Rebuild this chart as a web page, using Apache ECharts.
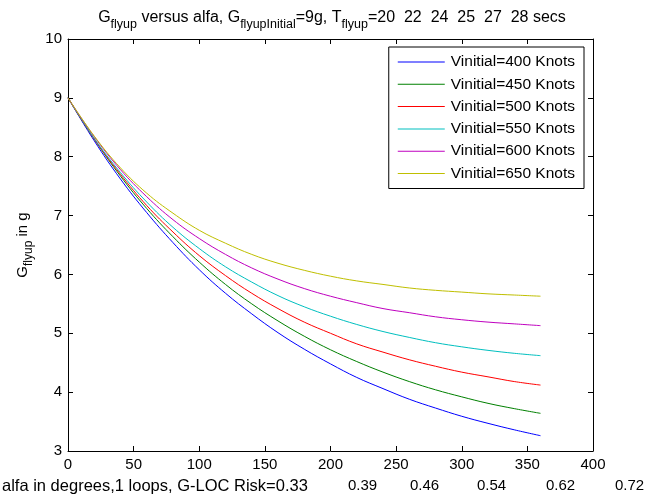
<!DOCTYPE html>
<html>
<head>
<meta charset="utf-8">
<script src="https://cdn.jsdelivr.net/npm/echarts@6/dist/echarts.min.js"></script>
<style>html,body{margin:0;padding:0;background:#fff;}#c{width:671px;height:500px;}</style>
</head>
<body>
<div id="c"></div>
<script>
var alfa = [0,20,40,60,80,100,120,140,160,180,200,220,240,260,280,300,320,340,360];
var g400 = [9,8.27,7.62,7.05,6.54,6.08,5.68,5.33,5.01,4.73,4.48,4.25,4.06,3.88,3.73,3.59,3.47,3.36,3.26];
var g450 = [9,8.30,7.67,7.12,6.64,6.21,5.83,5.50,5.21,4.95,4.72,4.52,4.34,4.18,4.04,3.92,3.81,3.72,3.64];
var g500 = [9,8.30,7.70,7.17,6.72,6.32,5.98,5.68,5.42,5.19,5.00,4.82,4.68,4.55,4.44,4.34,4.26,4.18,4.12];
var g550 = [9,8.31,7.73,7.23,6.80,6.44,6.13,5.87,5.64,5.45,5.29,5.15,5.03,4.93,4.84,4.77,4.71,4.66,4.62];
var g600 = [9,8.34,7.78,7.32,6.93,6.61,6.34,6.11,5.92,5.76,5.63,5.52,5.42,5.35,5.28,5.23,5.19,5.16,5.13];
var g650 = [9,8.35,7.81,7.38,7.04,6.75,6.53,6.34,6.19,6.07,5.97,5.89,5.83,5.77,5.73,5.70,5.67,5.65,5.63];
var seriesNames = ['Vinitial=400 Knots','Vinitial=450 Knots','Vinitial=500 Knots','Vinitial=550 Knots','Vinitial=600 Knots','Vinitial=650 Knots'];
var tFlyup = ['20','22','24','25','27','28'];
var riskLabels = ['0.33','0.39','0.46','0.54','0.62','0.72'];

var colors = ['#0000ff','#008000','#ff0000','#00bfbf','#bf00bf','#bfbf00'];
var allG = [g400,g450,g500,g550,g600,g650];

var chart = echarts.init(document.getElementById('c'), null, {renderer:'canvas'});
var FONT = 'Liberation Sans, Arial, sans-serif';

function mkSeries(i){
  return {
    name: seriesNames[i], type:'line', xAxisIndex:0, yAxisIndex:0,
    data: alfa.map(function(a,j){return [a, allG[i][j]];}),
    symbol:'none', smooth:0.4, lineStyle:{width:1, color:colors[i]}, itemStyle:{color:colors[i]},
    animation:false
  };
}

var axisCommon = {
  type:'value', min:0, max:400, interval:50,
  axisLine:{show:true, onZero:false, lineStyle:{color:'#000', width:1}},
  axisTick:{show:true, inside:true, length:5, lineStyle:{color:'#000'}},
  splitLine:{show:false}
};

var riskX = [348,410,477,546,615];
var graphics = [
  {type:'text', x:332, y:10, style:{
    text:'{n|G}{s|flyup}{n| versus alfa, G}{s|flyupInitial}{n|=9g, T}{s|flyup}{n|=' + tFlyup.join('  ') + ' secs}',
    align:'center', verticalAlign:'top',
    rich:{ n:{fontFamily:FONT, fontSize:16, lineHeight:18, verticalAlign:'top', fill:'#000'},
           s:{fontFamily:FONT, fontSize:12.5, lineHeight:14, padding:[8,0,0,0], verticalAlign:'top', fill:'#000'} }
  }},
  {type:'text', x:15, y:245, rotation:Math.PI/2, style:{
    text:'{n|G}{s|flyup}{n| in g}', align:'center', verticalAlign:'top',
    rich:{ n:{fontFamily:FONT, fontSize:15, lineHeight:17, verticalAlign:'top', fill:'#000'},
           s:{fontFamily:FONT, fontSize:12, lineHeight:13, padding:[8,0,0,0], verticalAlign:'top', fill:'#000'} }
  }},
  {type:'text', x:2, y:486, style:{text:'alfa in degrees,1 loops, G-LOC Risk=' + riskLabels[0], font:'16.5px ' + FONT, fill:'#000', verticalAlign:'middle', align:'left'}}
];
for (var k=1;k<riskLabels.length;k++){
  graphics.push({type:'text', x:riskX[k-1], y:486, style:{text:riskLabels[k], font:'15px ' + FONT, fill:'#000', verticalAlign:'middle', align:'left'}});
}

chart.setOption({
  backgroundColor:'#fff',
  animation:false,
  grid:{left:68, right:78, top:39, bottom:49, containLabel:false},
  xAxis:[
    Object.assign({}, axisCommon, {position:'bottom', axisLabel:{show:true, color:'#000', fontSize:15, fontFamily:FONT, margin:6}}),
    Object.assign({}, axisCommon, {position:'top', axisLabel:{show:false}})
  ],
  yAxis:[
    Object.assign({}, axisCommon, {min:3, max:10, interval:1, position:'left', axisLabel:{show:true, color:'#000', fontSize:15, fontFamily:FONT, margin:6}}),
    Object.assign({}, axisCommon, {min:3, max:10, interval:1, position:'right', axisLabel:{show:false}})
  ],
  legend:{
    show:true, orient:'vertical', right:87, top:47,
    backgroundColor:'#fff', borderColor:'#000', borderWidth:1,
    padding:[7,9,7,9], itemGap:6.3, itemWidth:47, itemHeight:14,
    textStyle:{fontFamily:FONT, fontSize:15.5, lineHeight:16, color:'#000', padding:[0,0,0,1]},
    data: seriesNames.map(function(n){return {name:n, icon:'path://M0,0L47,0L47,1L0,1Z'};})
  },
  series: [0,1,2,3,4,5].map(mkSeries),
  graphic: graphics
});
</script>
</body>
</html>
